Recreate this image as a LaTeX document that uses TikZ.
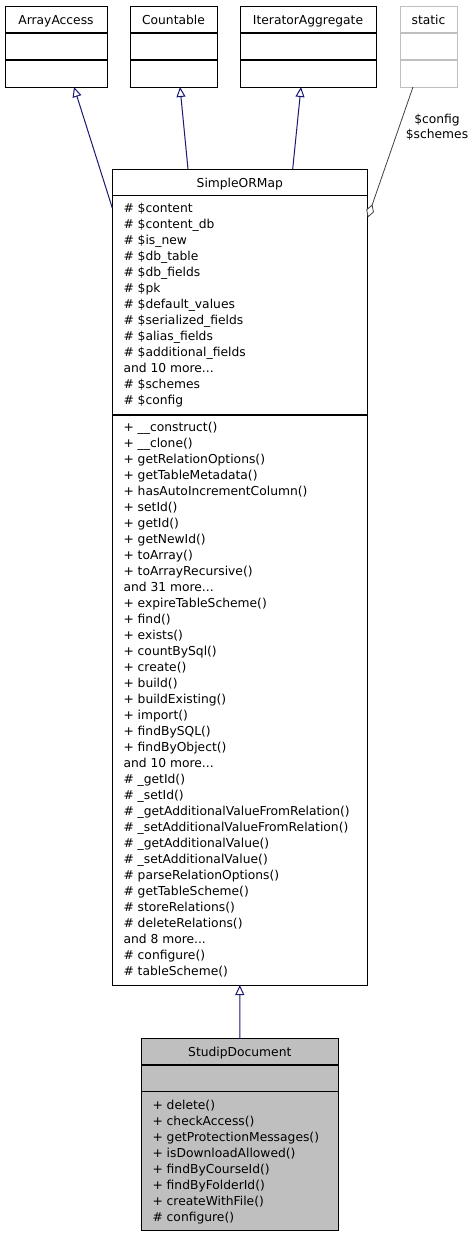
\documentclass[tikz,border=0pt]{standalone}
\usepackage{fontspec}
\setmainfont{DejaVu Sans}
\usetikzlibrary{arrows.meta}
\definecolor{navy}{HTML}{191970}
\definecolor{lgray}{HTML}{BFBFBF}
\definecolor{dgray}{HTML}{404040}
\newcommand\mydots{...}
\tikzset{
  umlbox/.style={draw, line width=1pt, anchor=north west, inner sep=0pt, outer sep=0pt},
  sepline/.style={line width=1.2pt},
  txt/.style={anchor=base west, inner sep=0pt, font=\fontsize{12.3}{15}\selectfont},
  ttl/.style={anchor=base, inner sep=0pt, font=\fontsize{12.3}{15}\selectfont},
  inh/.style={draw=navy, line width=1pt, -{Triangle[open, length=10pt, width=9pt, fill=white]}},
  assoc/.style={draw=dgray, line width=0.8pt, {Diamond[open, length=14pt, width=8pt, fill=white]}-}
}
\begin{document}
\begin{tikzpicture}[x=1pt, y=-1pt]
\useasboundingbox (0,0) rectangle (476,1237);
% top interface boxes
\node[umlbox, minimum width=102pt, minimum height=81pt] (aa) at (5,6) {};
\draw[sepline] (5,33) -- (107,33) (5,60) -- (107,60);
\node[ttl] (aat) at (56,24) {ArrayAccess};
\node[umlbox, minimum width=87pt, minimum height=81pt] (cnt) at (130,6) {};
\draw[sepline] (130,33) -- (217,33) (130,60) -- (217,60);
\node[ttl] (cntt) at (173.5,24) {Countable};
\node[umlbox, minimum width=136pt, minimum height=81pt] (ia) at (240,6) {};
\draw[sepline] (240,33) -- (376,33) (240,60) -- (376,60);
\node[ttl] (iat) at (308,24) {IteratorAggregate};
\node[umlbox, draw=lgray, minimum width=57pt, minimum height=81pt] (st) at (400,6) {};
\draw[sepline, draw=lgray] (400,33) -- (457,33) (400,60) -- (457,60);
\node[ttl] (stt) at (428.5,24) {static};
% SimpleORMap
\node[umlbox, minimum width=255pt, minimum height=816pt] (sorm) at (112.3,169) {};
\draw[sepline] (112.3,195.7) -- (367.3,195.7) (112.3,415) -- (367.3,415);
\node[ttl] (sormt) at (239.8,187.2) {SimpleORMap};
\foreach \t [count=\i from 0] in {\#\ \$content, \#\ \$content\_db, \#\ \$is\_new, \#\ \$db\_table, \#\ \$db\_fields, \#\ \$pk, \#\ \$default\_values, \#\ \$serialized\_fields, \#\ \$alias\_fields, \#\ \$additional\_fields, and 10 more\mydots, \#\ \$schemes, \#\ \$config}
  \node[txt] (attr\i) at (123.3,212.5+16*\i) {\t};
\foreach \t [count=\i from 0] in {+ \_\_construct(), + \_\_clone(), + getRelationOptions(), + getTableMetadata(), + hasAutoIncrementColumn(), + setId(), + getId(), + getNewId(), + toArray(), + toArrayRecursive(), and 31 more\mydots, + expireTableScheme(), + find(), + exists(), + countBySql(), + create(), + build(), + buildExisting(), + import(), + findBySQL(), + findByObject(), and 10 more\mydots, \#\ \_getId(), \#\ \_setId(), \#\ \_getAdditionalValueFromRelation(), \#\ \_setAdditionalValueFromRelation(), \#\ \_getAdditionalValue(), \#\ \_setAdditionalValue(), \#\ parseRelationOptions(), \#\ getTableScheme(), \#\ storeRelations(), \#\ deleteRelations(), and 8 more\mydots, \#\ configure(), \#\ tableScheme()}
  \node[txt] (meth\i) at (123.3,431.5+16*\i) {\t};
% StudipDocument
\node[umlbox, fill=lgray, minimum width=197.7pt, minimum height=191.3pt] (sd) at (141,1038.7) {};
\draw[sepline] (141,1065) -- (338.7,1065) (141,1091.7) -- (338.7,1091.7);
\node[ttl] (sdt) at (239.8,1056.2) {StudipDocument};
\foreach \t [count=\i from 0] in {+ delete(), + checkAccess(), + getProtectionMessages(), + isDownloadAllowed(), + findByCourseId(), + findByFolderId(), + createWithFile(), \#\ configure()}
  \node[txt] (sdm\i) at (152.3,1109.5+16*\i) {\t};
% connection points
\coordinate (aain) at (74,87);
\coordinate (aaout) at (112.3,208);
\coordinate (cntin) at (180,87);
\coordinate (cntout) at (188,169);
\coordinate (iain) at (301,87);
\coordinate (iaout) at (292.7,169);
\coordinate (stout) at (413,87);
\coordinate (stin) at (367.8,217.5);
% connectors
\draw[inh] (aaout) -- (aain);
\draw[inh] (cntout) -- (cntin);
\draw[inh] (iaout) -- (iain);
\draw[inh] (sd.north) -- (sorm.south);
\draw[assoc] (stin) -- (stout);
\node[align=center, inner sep=0pt, font=\fontsize{12.3}{15}\selectfont] (lbl) at (437,127.5) {\$config\\\$schemes};
\end{tikzpicture}
\end{document}
